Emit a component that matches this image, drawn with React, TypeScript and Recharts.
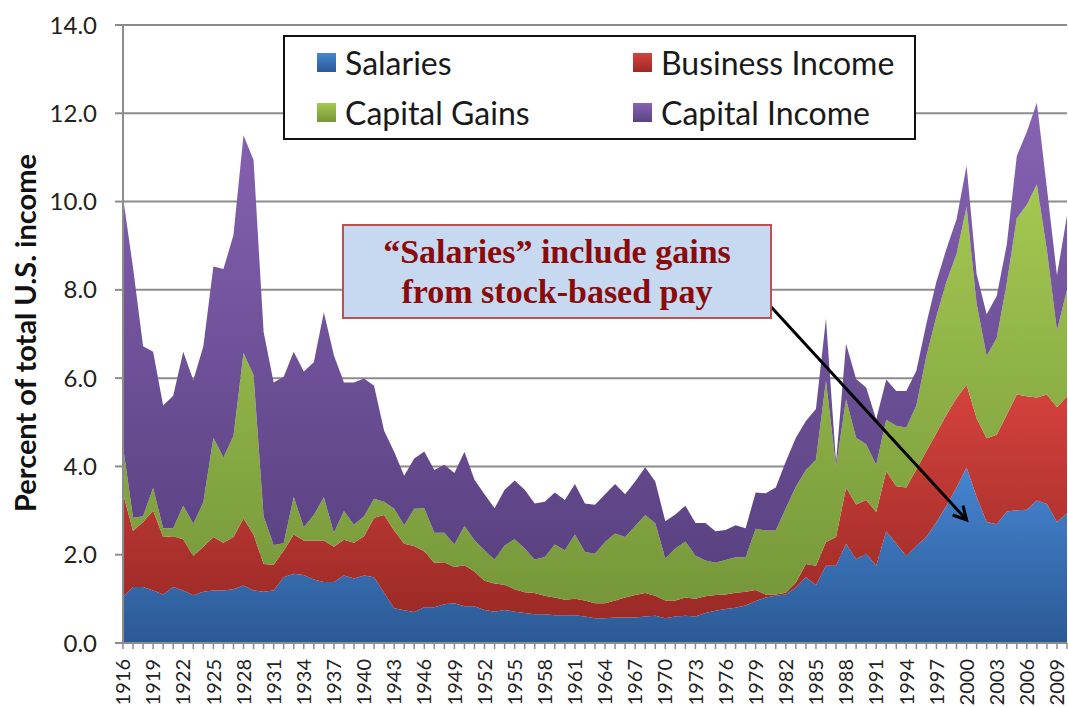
import React from "react";
import {
  AreaChart,
  Area,
  XAxis,
  YAxis,
  CartesianGrid,
  Legend,
  ReferenceLine,
} from "recharts";

// years on the category axis
const YEARS = [
  1916, 1917, 1918, 1919, 1920, 1921, 1922, 1923, 1924, 1925,
  1926, 1927, 1928, 1929, 1930, 1931, 1932, 1933, 1934, 1935,
  1936, 1937, 1938, 1939, 1940, 1941, 1942, 1943, 1944, 1945,
  1946, 1947, 1948, 1949, 1950, 1951, 1952, 1953, 1954, 1955,
  1956, 1957, 1958, 1959, 1960, 1961, 1962, 1963, 1964, 1965,
  1966, 1967, 1968, 1969, 1970, 1971, 1972, 1973, 1974, 1975,
  1976, 1977, 1978, 1979, 1980, 1981, 1982, 1983, 1984, 1985,
  1986, 1987, 1988, 1989, 1990, 1991, 1992, 1993, 1994, 1995,
  1996, 1997, 1998, 1999, 2000, 2001, 2002, 2003, 2004, 2005,
  2006, 2007, 2008, 2009, 2010,
];

// share of total U.S. income, each component (stacked)
const SALARIES = [
  1.04, 1.27, 1.27, 1.19, 1.1, 1.27, 1.19, 1.08, 1.16, 1.19,
  1.19, 1.22, 1.3, 1.19, 1.16, 1.19, 1.49, 1.57, 1.54, 1.44,
  1.38, 1.38, 1.53, 1.46, 1.53, 1.49, 1.14, 0.79, 0.74, 0.7,
  0.81, 0.81, 0.88, 0.9, 0.83, 0.83, 0.75, 0.71, 0.75, 0.71,
  0.68, 0.65, 0.65, 0.63, 0.63, 0.63, 0.6, 0.56, 0.56, 0.58,
  0.58, 0.58, 0.6, 0.62, 0.56, 0.6, 0.62, 0.6, 0.68, 0.73,
  0.77, 0.8, 0.85, 0.95, 1.03, 1.07, 1.1, 1.26, 1.49, 1.31,
  1.75, 1.75, 2.25, 1.9, 2.02, 1.75, 2.53, 2.25, 1.97, 2.2,
  2.4, 2.74, 3.11, 3.52, 3.98, 3.31, 2.74, 2.69, 2.98, 3.01,
  3.02, 3.23, 3.15, 2.74, 2.94,
];

const BUSINESS_INCOME = [
  2.35, 1.27, 1.47, 1.81, 1.3, 1.15, 1.16, 0.89, 1.02, 1.21,
  1.08, 1.18, 1.52, 1.27, 0.63, 0.58, 0.6, 0.89, 0.78, 0.88,
  0.94, 0.8, 0.81, 0.81, 0.89, 1.35, 1.76, 1.76, 1.51, 1.5,
  1.27, 1.01, 0.95, 0.82, 0.93, 0.79, 0.66, 0.64, 0.57, 0.51,
  0.47, 0.48, 0.42, 0.4, 0.35, 0.37, 0.36, 0.34, 0.34, 0.38,
  0.45, 0.51, 0.53, 0.45, 0.4, 0.36, 0.41, 0.4, 0.38, 0.36,
  0.33, 0.34, 0.31, 0.25, 0.07, 0.03, 0.04, 0.11, 0.3, 0.44,
  0.54, 0.65, 1.27, 1.24, 1.22, 1.22, 1.36, 1.3, 1.55, 1.73,
  1.95, 2.02, 2.06, 2.03, 1.87, 1.78, 1.9, 2.03, 2.19, 2.62,
  2.57, 2.33, 2.48, 2.6, 2.65,
];

const CAPITAL_GAINS = [
  1.06, 0.3, 0.13, 0.51, 0.2, 0.18, 0.76, 0.73, 1.01, 2.25,
  1.93, 2.29, 3.75, 3.61, 1.08, 0.45, 0.17, 0.85, 0.3, 0.58,
  0.98, 0.32, 0.65, 0.41, 0.45, 0.43, 0.3, 0.49, 0.42, 0.84,
  0.97, 0.68, 0.67, 0.51, 0.89, 0.71, 0.69, 0.54, 0.89, 1.13,
  0.99, 0.76, 0.88, 1.2, 1.12, 1.46, 1.1, 1.12, 1.39, 1.52,
  1.37, 1.56, 1.77, 1.64, 0.96, 1.18, 1.27, 0.98, 0.81, 0.73,
  0.78, 0.8, 0.78, 1.39, 1.45, 1.45, 1.91, 2.17, 2.13, 2.4,
  3.65, 1.6, 2.0, 1.51, 1.26, 1.07, 1.17, 1.37, 1.36, 1.45,
  2.15, 2.64, 3.02, 3.26, 4.03, 2.6, 1.86, 2.19, 2.98, 3.99,
  4.34, 4.83, 3.27, 1.74, 2.41,
];

const CAPITAL_INCOME = [
  5.65, 5.66, 3.85, 3.09, 2.78, 3.0, 3.49, 3.25, 3.53, 3.88,
  4.27, 4.55, 4.93, 4.87, 4.18, 3.68, 3.77, 3.29, 3.53, 3.46,
  4.19, 4.02, 2.91, 3.22, 3.12, 2.56, 1.61, 1.29, 1.12, 1.14,
  1.29, 1.42, 1.54, 1.62, 1.68, 1.37, 1.27, 1.16, 1.26, 1.33,
  1.33, 1.27, 1.25, 1.18, 1.14, 1.14, 1.1, 1.11, 1.08, 1.12,
  0.97, 1.01, 1.08, 0.95, 0.84, 0.77, 0.81, 0.74, 0.85, 0.71,
  0.68, 0.73, 0.66, 0.82, 0.84, 0.97, 1.06, 1.11, 1.11, 1.15,
  1.41, 0.1, 1.26, 1.33, 1.29, 1.03, 0.91, 0.79, 0.83, 0.79,
  0.74, 0.79, 0.74, 0.79, 0.93, 0.67, 0.95, 0.95, 0.87, 1.41,
  1.65, 1.85, 1.4, 1.25, 1.68,
];

const Y_TICKS = [0, 2, 4, 6, 8, 10, 12, 14];

const SERIES = [
  { key: "salaries", name: "Salaries", top: "#4685d2", bottom: "#2b5994" },
  { key: "business", name: "Business Income", top: "#d5423d", bottom: "#9b2a26" },
  { key: "gains", name: "Capital Gains", top: "#a4c851", bottom: "#76973a" },
  { key: "income", name: "Capital Income", top: "#8763b3", bottom: "#5a4282" },
];

const data = YEARS.map((year, i) => ({
  year,
  salaries: SALARIES[i],
  business: BUSINESS_INCOME[i],
  gains: CAPITAL_GAINS[i],
  income: CAPITAL_INCOME[i],
}));

const FONT = "Lato, 'Open Sans', sans-serif";

function YearTick(props: any) {
  const { x, y, payload, index } = props;
  if (index % 3 !== 0) return null;
  return (
    <text
      x={x}
      y={y}
      transform={`rotate(-90 ${x} ${y})`}
      textAnchor="end"
      dy="0.36em"
      fontSize={20}
      fontFamily={FONT}
      fill="#222"
    >
      {payload.value}
    </text>
  );
}

function LegendBox() {
  const rows = [
    [SERIES[0], SERIES[1]],
    [SERIES[2], SERIES[3]],
  ];
  return (
    <div
      style={{
        boxSizing: "border-box",
        width: 633,
        height: 105,
        border: "2px solid #111",
        background: "#fff",
        paddingLeft: 32,
        fontFamily: FONT,
        fontSize: 32,
        color: "#1a1a1a",
      }}
    >
      {rows.map((row, r) => (
        <div key={r} style={{ display: "flex", height: 50, alignItems: "center" }}>
          {row.map((s, c) => (
            <div
              key={s.key}
              style={{
                display: "flex",
                alignItems: "center",
                width: c === 0 ? 316 : "auto",
                flexShrink: 0,
              }}
            >
              <span
                style={{
                  display: "inline-block",
                  width: 19,
                  height: 19,
                  marginRight: 9,
                  background: `linear-gradient(${s.top}, ${s.bottom})`,
                }}
              />
              <span>{s.name}</span>
            </div>
          ))}
        </div>
      ))}
    </div>
  );
}

export default function App() {
  return (
    <div
      style={{
        position: "absolute",
        left: 0,
        top: 0,
        width: 1068,
        height: 707,
        background: "#fff",
        overflow: "hidden",
      }}
    >
      <AreaChart
        width={1068}
        height={707}
        data={data}
        margin={{ top: 25, right: 1, bottom: 0, left: 0 }}
      >
        <defs>
          {SERIES.map((s) => (
            <linearGradient key={s.key} id={`fill-${s.key}`} x1="0" y1="0" x2="0" y2="1">
              <stop offset="0%" stopColor={s.top} />
              <stop offset="100%" stopColor={s.bottom} />
            </linearGradient>
          ))}
          <marker
            id="arrowHead"
            markerUnits="userSpaceOnUse"
            markerWidth={20}
            markerHeight={20}
            refX={16}
            refY={10}
            orient="auto"
          >
            <path d="M3,3 L16,10 L3,17" fill="none" stroke="#000" strokeWidth={3} />
          </marker>
        </defs>
        <CartesianGrid vertical={false} stroke="#8c8c8c" strokeWidth={2} />
        <XAxis
          dataKey="year"
          interval={0}
          height={64}
          tickSize={6}
          tickMargin={10}
          tick={<YearTick />}
          axisLine={{ stroke: "#8c8c8c", strokeWidth: 2 }}
          tickLine={{ stroke: "#8c8c8c", strokeWidth: 1.5 }}
        />
        <YAxis
          domain={[0, 14]}
          ticks={Y_TICKS}
          interval={0}
          width={123}
          tickSize={8}
          tickMargin={18}
          tickFormatter={(v: number) => v.toFixed(1)}
          tick={{ fontSize: 24, fontFamily: FONT, fill: "#222" }}
          axisLine={{ stroke: "#8c8c8c", strokeWidth: 2 }}
          tickLine={{ stroke: "#8c8c8c", strokeWidth: 2 }}
          label={{
            content: () => (
              <text
                x={36}
                y={333}
                transform="rotate(-90 36 333)"
                textAnchor="middle"
                fontSize={29}
                fontWeight="bold"
                fontFamily={FONT}
                fill="#111"
              >
                Percent of total U.S. income
              </text>
            ),
          }}
        />
        <Legend
          layout="vertical"
          align="center"
          verticalAlign="middle"
          content={() => <LegendBox />}
          wrapperStyle={{ top: 35, left: 283, width: 633, height: 105 }}
        />
        {SERIES.map((s) => (
          <Area
            key={s.key}
            type="linear"
            dataKey={s.key}
            name={s.name}
            stackId="income"
            stroke="none"
            fill={`url(#fill-${s.key})`}
            fillOpacity={1}
            isAnimationActive={false}
          />
        ))}
        <ReferenceLine
          segment={[
            { x: 1980, y: 7.75 },
            { x: 2000, y: 2.79 },
          ]}
          stroke="#000"
          strokeWidth={3}
          markerEnd="url(#arrowHead)"
        />
      </AreaChart>
      <div
        style={{
          position: "absolute",
          left: 342,
          top: 224,
          width: 430,
          height: 95,
          boxSizing: "border-box",
          border: "2px solid #c0504d",
          background: "#c6d9f1",
          display: "flex",
          alignItems: "center",
          justifyContent: "center",
          textAlign: "center",
          fontFamily: "'Liberation Serif', 'Times New Roman', serif",
          fontWeight: "bold",
          fontSize: 34,
          lineHeight: "40px",
          color: "#8b0a0a",
        }}
      >
        “Salaries” include gains
        <br />
        from stock-based pay
      </div>
    </div>
  );
}
